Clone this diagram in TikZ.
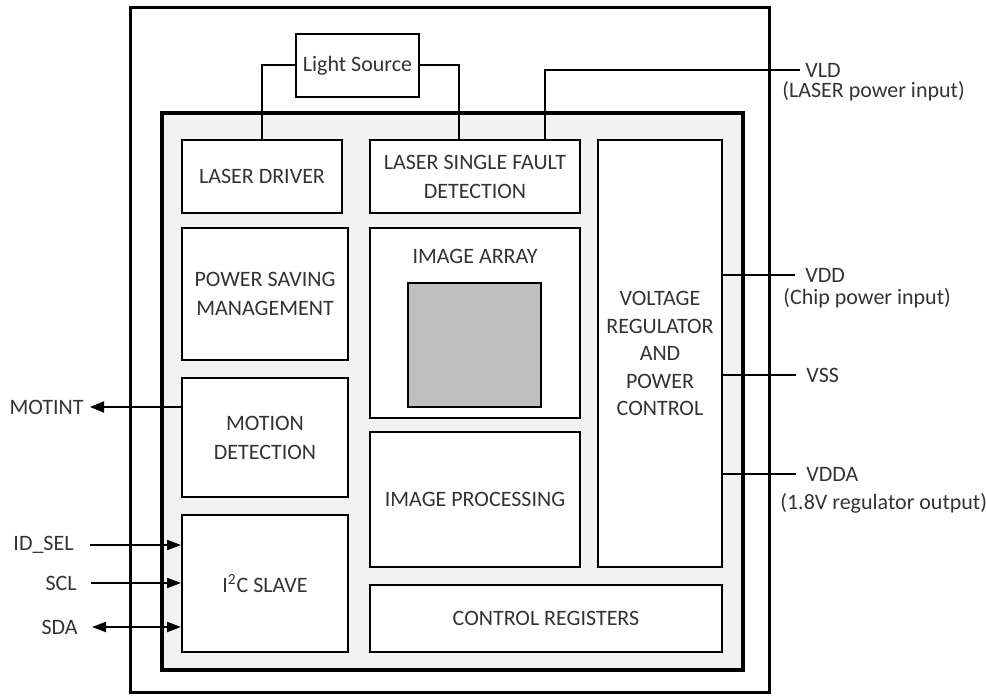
\documentclass[tikz,border=0pt]{standalone}
\usepackage{fontspec}
\setmainfont{Carlito}
\usetikzlibrary{arrows.meta,positioning}
\definecolor{Ink}{HTML}{000000}
\definecolor{Label}{HTML}{333333}
\definecolor{Panel}{HTML}{F2F2F2}
\definecolor{Pixel}{HTML}{BFBFBF}
\tikzset{
  block/.style={
    draw=Ink, line width=1pt, fill=white, inner sep=0pt,
    align=center, text=Label
  },
  frame/.style={draw=Ink, inner sep=0pt},
  pin/.style={text=Label, inner sep=0pt},
  wire/.style={draw=Ink, line width=1pt},
  sigin/.style={wire, -{Triangle[length=7pt,width=5pt]}},
  sigout/.style={wire, -{Triangle[length=7pt,width=5.5pt]}},
  sigbi/.style={wire, {Triangle[length=7pt,width=5pt]}-{Triangle[length=7pt,width=5pt]}}
}

\begin{document}
\begin{tikzpicture}[x=0.5pt,y=-0.5pt,font=\fontsize{11}{14.5}\selectfont]
    \useasboundingbox (0,0) rectangle (986,700);
    \node[frame,line width=1.5pt,minimum width=319.5pt,minimum height=342pt] (chip) at (449.5,350) {};
    \node[frame,line width=2pt,fill=Panel,minimum width=290.5pt,minimum height=278.5pt] (die) at (452.5,391.5) {};
    \node[block,minimum width=61.5pt,minimum height=31.5pt] (light) at (357.5,65.5) {Light Source};
    \node[block,minimum width=80pt,minimum height=36.5pt] (driver) at (262,176.5) {LASER DRIVER};
    \node[block,minimum width=105pt,minimum height=36.5pt] (fault) at (475,176.5) {LASER SINGLE FAULT\\DETECTION};
    \node[block,minimum width=62pt,minimum height=213.5pt,font=\fontsize{11}{13.75}\selectfont] (vreg) at (660,353.5) {VOLTAGE\\REGULATOR\\AND\\POWER\\CONTROL};
    \node[block,minimum width=83pt,minimum height=66pt] (psm) at (265,294) {POWER SAVING\\MANAGEMENT};
    \node[block,minimum width=105pt,minimum height=95pt] (array) at (475,323) {};
    \node[pin] (arraytxt) at (475,256) {IMAGE ARRAY};
    \node[frame,line width=0.8pt,fill=Pixel,minimum width=66.5pt,minimum height=62pt] (pixels) at (474.5,345) {};
    \node[block,minimum width=83pt,minimum height=59.5pt] (motion) at (265,437.5) {MOTION\\DETECTION};
    \node[block,minimum width=105pt,minimum height=67.5pt] (proc) at (475,499.5) {IMAGE PROCESSING};
    \node[block,minimum width=83pt,minimum height=68.5pt] (i2c) at (265,583.5) {I\textsuperscript{2}C SLAVE};
    \node[block,minimum width=176pt,minimum height=33.5pt] (regs) at (546,618.5) {CONTROL REGISTERS};
    \node[pin,anchor=east] (motint) at (84,407) {MOTINT};
    \node[pin,anchor=east] (idsel) at (74,545) {ID\_SEL};
    \node[pin,anchor=east] (scl) at (77,583) {SCL};
    \node[pin,anchor=east] (sda) at (78,627) {SDA};
    \node[pin,anchor=west] (vld) at (805,70) {VLD};
    \node[pin,anchor=west] (vldnote) at (782,91) {(LASER power input)};
    \node[pin,anchor=west] (vdd) at (805,275) {VDD};
    \node[pin,anchor=west] (vddnote) at (783,298) {(Chip power input)};
    \node[pin,anchor=west] (vss) at (806,375) {VSS};
    \node[pin,anchor=west] (vdda) at (806,474) {VDDA};
    \node[pin,anchor=west] (vddanote) at (780,503) {(1.8V regulator output)};
    \draw[wire] (light.west) -| (driver.north);
    \draw[wire] (light.east) -| ([xshift=-8pt]fault.north);
    \draw[wire] ([xshift=35pt]fault.north) |- ([xshift=-2.5pt]vld.west);
    \draw[wire] (vreg.east |- vdd) -- ([xshift=-5pt]vdd.west);
    \draw[wire] (vreg.east |- vss) -- ([xshift=-5pt]vss.west);
    \draw[wire] (vreg.east |- vdda) -- ([xshift=-5pt]vdda.west);
    \draw[sigout] (motion.west |- motint) -- ([xshift=3pt]motint.east);
    \draw[sigin] ([xshift=8pt]idsel.east) -- (i2c.west |- idsel);
    \draw[sigin] ([xshift=7pt]scl.east) -- (i2c.west |- scl);
    \draw[sigbi] ([xshift=7pt]sda.east) -- (i2c.west |- sda);
  \end{tikzpicture}
\end{document}
